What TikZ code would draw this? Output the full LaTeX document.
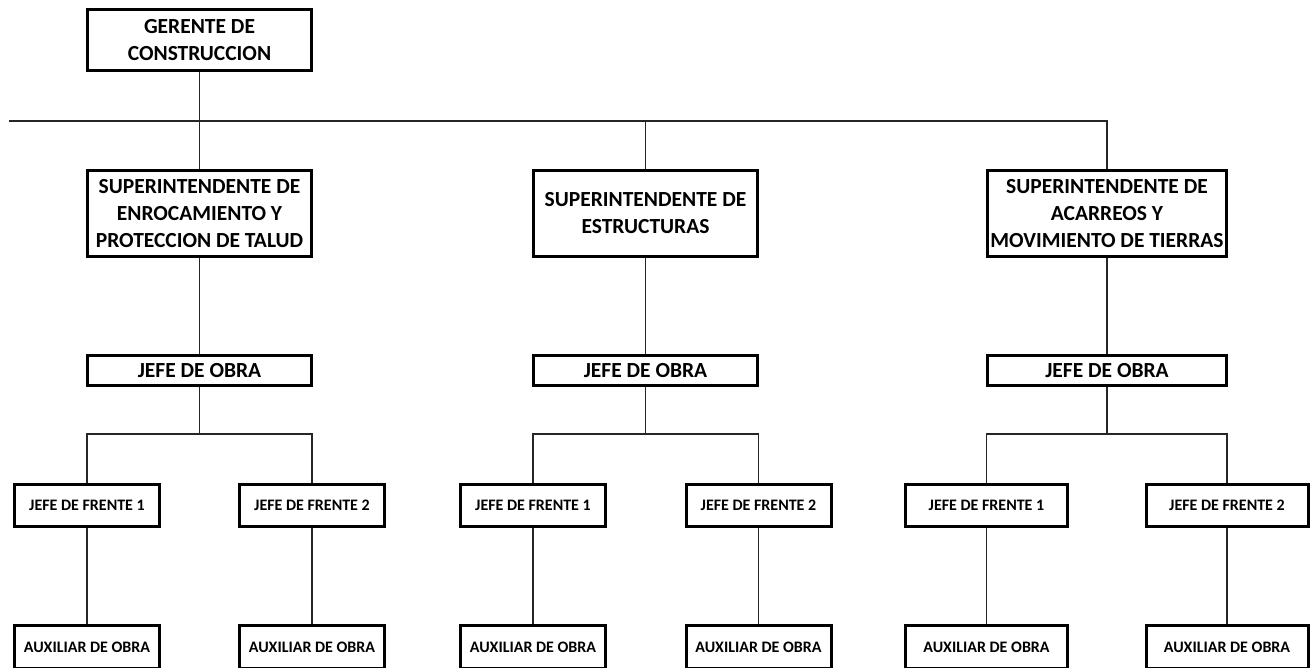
\documentclass[tikz,border=0pt]{standalone}
\usepackage{fontspec}
\setmainfont{Carlito}
\usetikzlibrary{positioning}
\tikzstyle{bigbox} = [
	rectangle,
	minimum width=224pt,
	inner sep=0pt,
	text centered,
	align=center,
	draw=black,
	line width=3pt,
	font=\fontsize{21.5}{27}\selectfont\bfseries
]
\tikzstyle{smallbox} = [
	rectangle,
	minimum width=145pt,
	minimum height=42pt,
	inner sep=0pt,
	text centered,
	draw=black,
	line width=3pt,
	font=\fontsize{16}{18}\selectfont\bfseries
]
\tikzstyle{line} = [line width=1.9pt, draw=black!85]

\begin{document}
\begin{tikzpicture}[x=1pt, y=-1pt]
	\useasboundingbox (0,0) rectangle (1310,668);

	\node (gerente) [bigbox, minimum height=61pt] at (199.5,40) {GERENTE DE\\CONSTRUCCION};
	\node (sup1) [bigbox, minimum height=86pt, below=97pt of gerente] {SUPERINTENDENTE DE\\ENROCAMIENTO Y\\PROTECCION DE TALUD};
	\node (sup2) [bigbox, minimum height=86pt, right=219pt of sup1] {SUPERINTENDENTE DE\\ESTRUCTURAS};
	\node (sup3) [bigbox, minimum height=86pt, minimum width=239pt, right=227pt of sup2] {SUPERINTENDENTE DE\\ACARREOS Y\\MOVIMIENTO DE TIERRAS};

	\node (obra1) [bigbox, minimum height=30pt, below=96pt of sup1] {JEFE DE OBRA};
	\node (obra2) [bigbox, minimum height=30pt, below=96pt of sup2] {JEFE DE OBRA};
	\node (obra3) [bigbox, minimum height=30pt, minimum width=239pt, below=96pt of sup3] {JEFE DE OBRA};

	\node (frente1a) [smallbox, below=96pt of obra1, xshift=-112.5pt] {JEFE DE FRENTE 1};
	\node (frente1b) [smallbox, below=96pt of obra1, xshift=112.5pt] {JEFE DE FRENTE 2};
	\node (frente2a) [smallbox, below=96pt of obra2, xshift=-112.5pt] {JEFE DE FRENTE 1};
	\node (frente2b) [smallbox, below=96pt of obra2, xshift=113pt] {JEFE DE FRENTE 2};
	\node (frente3a) [smallbox, minimum width=162pt, below=96pt of obra3, xshift=-120.5pt] {JEFE DE FRENTE 1};
	\node (frente3b) [smallbox, minimum width=162pt, below=96pt of obra3, xshift=120pt] {JEFE DE FRENTE 2};

	\node (aux1a) [smallbox, minimum height=43pt, below=96pt of frente1a] {AUXILIAR DE OBRA};
	\node (aux1b) [smallbox, minimum height=43pt, below=96pt of frente1b] {AUXILIAR DE OBRA};
	\node (aux2a) [smallbox, minimum height=43pt, below=96pt of frente2a] {AUXILIAR DE OBRA};
	\node (aux2b) [smallbox, minimum height=43pt, below=96pt of frente2b] {AUXILIAR DE OBRA};
	\node (aux3a) [smallbox, minimum height=43pt, minimum width=162pt, below=96pt of frente3a] {AUXILIAR DE OBRA};
	\node (aux3b) [smallbox, minimum height=43pt, minimum width=162pt, below=96pt of frente3b] {AUXILIAR DE OBRA};

	\coordinate (bus) at (9,121);
	\draw [line] (bus) -- (bus -| sup3) -- (sup3);
	\draw [line] (gerente) -- (sup1);
	\draw [line] (sup2) -- (sup2 |- bus);

	\draw [line] (sup1) -- (obra1);
	\draw [line] (sup2) -- (obra2);
	\draw [line] (sup3) -- (obra3);

	\draw [line] (obra1) -- ++(0,-63.5pt) -| (frente1a);
	\draw [line] (obra1) -- ++(0,-63.5pt) -| (frente1b);
	\draw [line] (obra2) -- ++(0,-63.5pt) -| (frente2a);
	\draw [line] (obra2) -- ++(0,-63.5pt) -| (frente2b);
	\draw [line] (obra3) -- ++(0,-63.5pt) -| (frente3a);
	\draw [line] (obra3) -- ++(0,-63.5pt) -| (frente3b);

	\draw [line] (frente1a) -- (aux1a);
	\draw [line] (frente1b) -- (aux1b);
	\draw [line] (frente2a) -- (aux2a);
	\draw [line] (frente2b) -- (aux2b);
	\draw [line] (frente3a) -- (aux3a);
	\draw [line] (frente3b) -- (aux3b);
\end{tikzpicture}
\end{document}
